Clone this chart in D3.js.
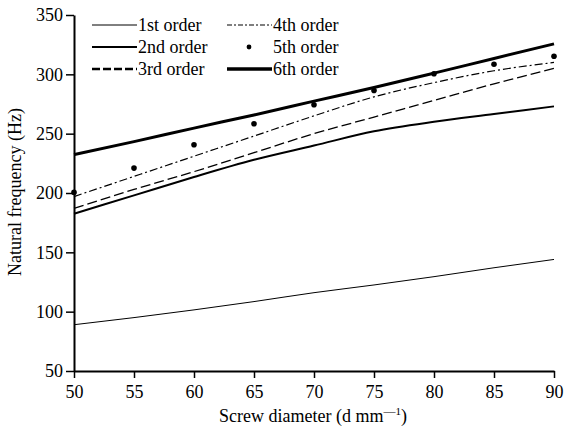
<!DOCTYPE html>
<html>
<head>
<meta charset="utf-8">
<script src="https://cdn.jsdelivr.net/npm/d3@7"></script>
<style>
  body { margin: 0; background: #fff; }
  text { font-family: "Liberation Serif", "Times New Roman", serif; fill: #000; }
</style>
</head>
<body>
<svg id="chart" width="566" height="431"></svg>
<script>
// screw diameter (mm)
const diameters = [50, 55, 60, 65, 70, 75, 80, 85, 90];

// natural frequency (Hz) per mode
const order1 = [89, 95, 101.5, 108.5, 116, 122.5, 129.5, 137, 144];
const order2 = [182.5, 198, 213.5, 228, 240, 252, 260, 266.5, 273];
const order3 = [187, 203, 218, 234, 250, 264, 278, 292, 305];
const order4 = [197, 214, 231, 248, 265, 281, 293, 303, 310];
const order5 = [200.5, 221, 240.7, 258.4, 274.4, 286.4, 300.5, 308.5, 315.2];
const order6 = [232.3, 243.3, 254.7, 265.8, 277.4, 288.9, 301, 313.4, 325.7];

const xTicks = [50, 55, 60, 65, 70, 75, 80, 85, 90];
const yTicks = [50, 100, 150, 200, 250, 300, 350];

const series = [
  { name: "1st order", values: order1, width: 1, dash: null, legendDash: null },
  { name: "2nd order", values: order2, width: 2, dash: null, legendDash: null },
  { name: "3rd order", values: order3, width: 1.3, dash: "10,4", legendDash: "8,3" },
  { name: "4th order", values: order4, width: 1.2, dash: "8,3,2,3", legendDash: "5,2,2,2" },
  { name: "5th order", values: order5, dots: true },
  { name: "6th order", values: order6, width: 3, dash: null, legendDash: null },
];

const fontSize = 18;
const svg = d3.select("#chart");

const x = d3.scaleLinear().domain([50, 90]).range([74, 554]);
const y = d3.scaleLinear().domain([50, 350]).range([371, 15]);

// axes
const xAxis = svg.append("g")
  .attr("transform", `translate(0,${y(50)})`)
  .call(d3.axisBottom(x).tickValues(xTicks).tickSize(7).tickSizeOuter(0).tickPadding(7));

const yAxis = svg.append("g")
  .attr("transform", `translate(${x(50)},0)`)
  .call(d3.axisLeft(y).tickValues(yTicks).tickSize(8).tickSizeOuter(0).tickPadding(3));

[xAxis, yAxis].forEach(g => {
  g.select(".domain").attr("stroke", "#000").attr("stroke-width", 2);
  g.selectAll(".tick line").attr("stroke", "#000").attr("stroke-width", 1.5);
  g.selectAll(".tick text")
    .attr("font-size", fontSize)
    .attr("font-family", "Liberation Serif")
    .attr("fill", "#000");
});

// axis titles
const xTitle = svg.append("text")
  .attr("x", 313)
  .attr("y", 422)
  .attr("text-anchor", "middle")
  .attr("font-size", fontSize);
xTitle.append("tspan").text("Screw diameter (d mm");
xTitle.append("tspan").attr("dy", -7).attr("font-size", 12).text("\u2014");
xTitle.append("tspan").attr("font-size", 11).text("1");
xTitle.append("tspan").attr("dy", 7).text(")");

svg.append("text")
  .attr("transform", "translate(21,192) rotate(-90)")
  .attr("text-anchor", "middle")
  .attr("font-size", fontSize)
  .text("Natural frequency (Hz)");

// lines
const line = d3.line()
  .x((d, i) => x(diameters[i]))
  .y(d => y(d))
  .curve(d3.curveMonotoneX);

const plot = svg.append("g");

series.filter(s => !s.dots).forEach(s => {
  plot.append("path")
    .datum(s.values)
    .attr("fill", "none")
    .attr("stroke", "#000")
    .attr("stroke-width", s.width)
    .attr("stroke-dasharray", s.dash)
    .attr("d", line);
});

series.filter(s => s.dots).forEach(s => {
  plot.selectAll(null)
    .data(s.values)
    .join("circle")
    .attr("cx", (d, i) => x(diameters[i]))
    .attr("cy", d => y(d))
    .attr("r", 2.8)
    .attr("fill", "#000");
});

// legend
const legendPos = [
  [92, 25], [92, 47], [92, 69],
  [227, 25], [227, 47], [227, 69],
];
const legend = svg.append("g");
series.forEach((s, i) => {
  const [lx, ly] = legendPos[i];
  const item = legend.append("g").attr("transform", `translate(${lx},${ly})`);
  if (s.dots) {
    item.append("circle").attr("cx", 22).attr("cy", 0).attr("r", 2.4).attr("fill", "#000");
  } else {
    item.append("line")
      .attr("x1", 0).attr("x2", 45)
      .attr("y1", 0).attr("y2", 0)
      .attr("stroke", "#000")
      .attr("stroke-width", s.name === "3rd order" ? 2.5 : s.name === "6th order" ? 3.5 : s.width)
      .attr("stroke-dasharray", s.legendDash);
  }
  item.append("text")
    .attr("x", 46)
    .attr("y", 6)
    .attr("font-size", fontSize)
    .text(s.name);
});
</script>
</body>
</html>
